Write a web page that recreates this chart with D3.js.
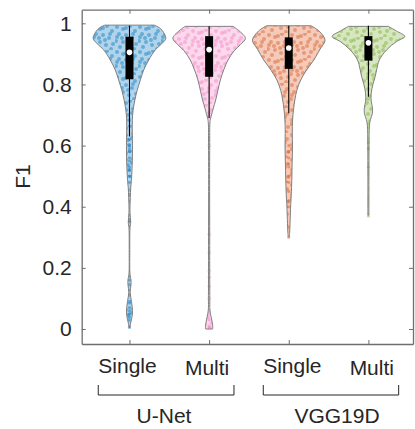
<!DOCTYPE html>
<html>
<head>
<meta charset="utf-8">
<script src="https://cdn.jsdelivr.net/npm/d3@7"></script>
<style>
html,body{margin:0;padding:0;background:#fff;}
svg{display:block;font-family:"Liberation Sans",Arial,sans-serif;}
</style>
</head>
<body>
<svg id="chart" width="415" height="429"></svg>
<script>
// ---------------- data ----------------
const categories = ["Single", "Multi", "Single", "Multi"];
const models = ["U-Net", "VGG19D"];
const yTicks = [0, 0.2, 0.4, 0.6, 0.8, 1];

// violin outlines: [F1 value, relative density (half-width, max = 1)]
const unetSingleProfile = [
  [0.994,0.68],[0.985,0.83],[0.97,0.94],[0.95,1.0],[0.93,0.86],[0.913,0.71],[0.88,0.53],
  [0.847,0.39],[0.815,0.30],[0.78,0.21],[0.75,0.15],[0.716,0.10],[0.684,0.078],[0.64,0.078],
  [0.60,0.083],[0.55,0.078],[0.49,0.055],[0.46,0.033],[0.43,0.022],[0.38,0.014],[0.35,0.033],
  [0.33,0.014],[0.25,0.008],[0.18,0.014],[0.16,0.042],[0.145,0.042],[0.12,0.019],[0.09,0.055],
  [0.06,0.083],[0.04,0.07],[0.02,0.033],[0.005,0.014]
];
const unetMultiProfile = [
  [0.99,0.66],[0.975,0.83],[0.951,1.0],[0.93,0.86],[0.91,0.69],[0.88,0.52],[0.85,0.41],
  [0.815,0.31],[0.78,0.24],[0.749,0.18],[0.72,0.11],[0.705,0.077],[0.69,0.041],[0.674,0.022],
  [0.60,0.016],[0.45,0.014],[0.30,0.016],[0.20,0.016],[0.10,0.019],[0.062,0.022],[0.04,0.055],
  [0.02,0.088],[0.008,0.10],[0.0,0.096]
];
const vggSingleProfile = [
  [0.992,0.61],[0.975,0.83],[0.945,1.0],[0.915,0.86],[0.88,0.69],[0.847,0.49],[0.815,0.33],
  [0.78,0.22],[0.749,0.167],[0.72,0.133],[0.684,0.106],[0.64,0.097],[0.60,0.103],[0.55,0.094],
  [0.487,0.083],[0.44,0.069],[0.41,0.055],[0.37,0.042],[0.324,0.028],[0.302,0.017]
];
const vggMultiProfile = [
  [0.99,0.55],[0.975,0.77],[0.957,1.0],[0.94,0.77],[0.913,0.50],[0.88,0.30],[0.85,0.23],
  [0.825,0.185],[0.80,0.124],[0.771,0.077],[0.745,0.077],[0.725,0.11],[0.705,0.11],[0.685,0.055],
  [0.665,0.028],[0.60,0.017],[0.50,0.014],[0.373,0.014]
];
const profiles = [unetSingleProfile, unetMultiProfile, vggSingleProfile, vggMultiProfile];

// box plot statistics
const q1 = [0.817, 0.825, 0.851, 0.878];
const medians = [0.905, 0.914, 0.919, 0.936];
const q3 = [0.956, 0.958, 0.954, 0.958];
const whiskerLow = [0.630, 0.690, 0.706, 0.760];
const whiskerHigh = [0.992, 0.990, 0.992, 0.992];

// individual points visible in the thin tails
const unetSingleTail = [0.62,0.60,0.59,0.58,0.56,0.55,0.53,0.52,0.50,0.48,0.35,0.16,0.145,0.085,0.07,0.06,0.05,0.04,0.005];
const unetMultiTail = [0.60,0.31,0.25,0.19,0.17,0.14,0.10,0.03,0.01,0.005];
const vggSingleTail = [0.60,0.58,0.56,0.54,0.53,0.50,0.48,0.45,0.42,0.40,0.30];
const vggMultiTail = [0.61,0.59,0.53,0.37];
const tails = [unetSingleTail, unetMultiTail, vggSingleTail, vggMultiTail];

// ---------------- drawing ----------------
const colors = ["#0072BD", "#F27FC0", "#D95319", "#77AC30"];
const FS = 21;
const svg = d3.select("#chart");
const L = 81.7, R = 413, T = 9.7, B = 344;

const x = d3.scaleLinear().domain([0.4, 4.56]).range([L, R]);
const y = d3.scaleLinear().domain([-0.049, 1.0445]).range([B, T]);
const w = d3.scaleLinear().domain([0, 1]).range([0, 36.3]);

// dot texture patterns (decorative fill texture)
const defs = svg.append("defs");
const tileDots = [[2,2],[8,4],[15,1],[20,6],[4,9],[11,10],[17,13],[1,16],[8,17],
                  [14,20],[21,19],[5,22],[11,3],[19,24],[2,12],[13,15],[7,13],[18,9]];
colors.forEach((c, i) => {
  const p = defs.append("pattern").attr("id", "pat" + i).attr("patternUnits", "userSpaceOnUse")
    .attr("width", 23).attr("height", 25).attr("x", i * 7).attr("y", i * 4);
  p.selectAll("circle").data(tileDots).join("circle")
    .attr("cx", d => d[0]).attr("cy", d => d[1]).attr("r", 2)
    .attr("fill", c).attr("fill-opacity", 0.42);
});

profiles.forEach((prof, i) => {
  const cx = x(i + 1);
  const area = d3.area()
    .y(d => y(d[0]))
    .x0(d => cx - w(d[1]))
    .x1(d => cx + w(d[1]))
    .curve(d3.curveCatmullRom.alpha(0.5));
  const g = svg.append("g");
  g.append("path").attr("d", area(prof)).attr("fill", colors[i]).attr("fill-opacity", 0.3);
  g.append("path").attr("d", area(prof)).attr("fill", "url(#pat" + i + ")");
  g.selectAll("circle.tail").data(tails[i]).join("circle").attr("class", "tail")
    .attr("cx", cx).attr("cy", d => y(d)).attr("r", 1.6)
    .attr("fill", colors[i]).attr("fill-opacity", 0.45);
  g.append("path").attr("d", area(prof)).attr("fill", "none")
    .attr("stroke", "#808080").attr("stroke-width", 1);
  // whisker
  g.append("line").attr("x1", cx).attr("x2", cx)
    .attr("y1", y(whiskerHigh[i])).attr("y2", y(whiskerLow[i]))
    .attr("stroke", "#000").attr("stroke-width", 1.1);
  // box
  g.append("rect").attr("x", cx - 4).attr("width", 8)
    .attr("y", y(q3[i])).attr("height", y(q1[i]) - y(q3[i])).attr("fill", "#000");
  // median
  g.append("circle").attr("cx", cx).attr("cy", y(medians[i])).attr("r", 2.8)
    .attr("fill", "#fff");
});

// axes
const axisColor = "#6e6e6e";
const tickPos = [1, 2, 3, 4];
const gl = svg.append("g").attr("transform", `translate(${L},0)`)
  .call(d3.axisLeft(y).tickValues(yTicks).tickFormat(d3.format("~g")).tickSizeInner(-4).tickSizeOuter(0).tickPadding(10));
const gr = svg.append("g").attr("transform", `translate(${R},0)`)
  .call(d3.axisRight(y).tickValues(yTicks).tickFormat("").tickSizeInner(-4).tickSizeOuter(0));
const gt = svg.append("g").attr("transform", `translate(0,${T})`)
  .call(d3.axisTop(x).tickValues(tickPos).tickFormat("").tickSizeInner(-4).tickSizeOuter(0));
const gb = svg.append("g").attr("transform", `translate(0,${B})`)
  .call(d3.axisBottom(x).tickValues(tickPos).tickFormat("").tickSizeInner(-4).tickSizeOuter(0));
[gl, gr, gt, gb].forEach(g => {
  g.select(".domain").attr("stroke", axisColor).attr("stroke-width", 1.3);
  g.selectAll(".tick line").attr("stroke", axisColor).attr("stroke-width", 1);
  g.selectAll("text").attr("font-size", FS).attr("fill", "#262626")
    .attr("font-family", "Liberation Sans, Arial, sans-serif");
});

// category labels
const labelDx = [-2, -2, 3.6, 3.4];
const labelY = [373.3, 375, 373.3, 375];
svg.selectAll("text.cat").data(categories).join("text").attr("class", "cat")
  .attr("x", (d, i) => x(i + 1) + labelDx[i]).attr("y", (d, i) => labelY[i])
  .attr("text-anchor", "middle").attr("font-size", FS).attr("fill", "#262626").text(d => d);

// group brackets + model labels
const brackets = [[0.608, 2.312], [2.68, 4.38]];
const modelX = [164, 337];
brackets.forEach((b, i) => {
  const x0 = x(b[0]), x1 = x(b[1]);
  svg.append("path").attr("d", `M${x0},385V395H${x1}V385`)
    .attr("fill", "none").attr("stroke", "#262626").attr("stroke-width", 1);
  svg.append("text").attr("x", modelX[i]).attr("y", 423).attr("text-anchor", "middle")
    .attr("font-size", FS).attr("fill", "#262626").text(models[i]);
});

// y label
svg.append("text").attr("transform", "translate(29.5,176.5) rotate(-90)")
  .attr("text-anchor", "middle").attr("font-size", FS).attr("fill", "#262626").text("F1");
</script>
</body>
</html>
